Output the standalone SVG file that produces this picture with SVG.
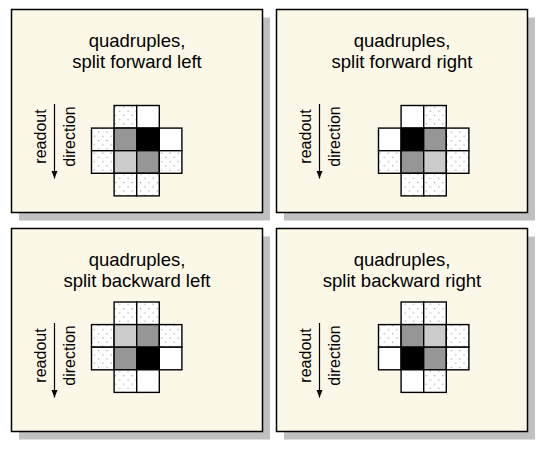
<svg xmlns="http://www.w3.org/2000/svg" width="541" height="449" viewBox="0 0 541 449">
<defs>
<pattern id="dots" patternUnits="userSpaceOnUse" width="8.4" height="8.4">
<rect x="0" y="0" width="8.4" height="8.4" fill="#ffffff"/>
<rect x="1.5" y="1.5" width="1" height="1" fill="#7a7a7a"/>
<rect x="5.7" y="5.7" width="1" height="1" fill="#7a7a7a"/>
</pattern>
<marker id="arrowhead" markerUnits="userSpaceOnUse" markerWidth="8" markerHeight="7" refX="7.5" refY="3.25" orient="auto" viewBox="0 0 8 6.5">
<path d="M0,0.25 L7.5,3.25 L0,6.25 Z" fill="#000000"/>
</marker>
<style>
.shadow{fill:#c0c0c0;stroke:none}
.panel{fill:#fcf8e8;stroke:#000000;stroke-width:1.5}
.title{font-family:"Liberation Sans",Arial,sans-serif;font-size:18.5px;fill:#000000;text-anchor:middle}
.lbl{font-family:"Liberation Sans",Arial,sans-serif;font-size:16px;fill:#000000;text-anchor:middle}
.c{stroke:#000000;stroke-width:1.4}
.w{fill:#ffffff}
.d{fill:url(#dots)}
.k{fill:#000000}
.m{fill:#969696}
.l{fill:#cbcbcb}
.arrow{stroke:#000000;stroke-width:1.2;fill:none}
</style>
</defs>

<g id="shadows">
<rect class="shadow" x="19" y="17.5" width="251" height="203"/>
<rect class="shadow" x="284" y="17.5" width="251" height="203"/>
<rect class="shadow" x="19" y="236.5" width="251" height="203"/>
<rect class="shadow" x="284" y="236.5" width="251" height="203"/>
</g>

<g id="panel-forward-left">
<rect class="panel" x="11.5" y="9.5" width="251" height="203"/>
<text class="title" x="137" y="46.5">quadruples,</text>
<text class="title" x="137" y="67.5">split forward left</text>
<text class="lbl" transform="translate(45.5,136.5) rotate(-90)">readout</text>
<text class="lbl" transform="translate(74.5,136.5) rotate(-90)">direction</text>
<rect class="c d" x="114.1" y="105.5" width="22.6" height="22.6"/>
<rect class="c w" x="136.7" y="105.5" width="22.6" height="22.6"/>
<rect class="c d" x="91.5" y="128.1" width="22.6" height="22.6"/>
<rect class="c m" x="114.1" y="128.1" width="22.6" height="22.6"/>
<rect class="c k" x="136.7" y="128.1" width="22.6" height="22.6"/>
<rect class="c w" x="159.3" y="128.1" width="22.6" height="22.6"/>
<rect class="c d" x="91.5" y="150.7" width="22.6" height="22.6"/>
<rect class="c l" x="114.1" y="150.7" width="22.6" height="22.6"/>
<rect class="c m" x="136.7" y="150.7" width="22.6" height="22.6"/>
<rect class="c d" x="159.3" y="150.7" width="22.6" height="22.6"/>
<rect class="c d" x="114.1" y="173.3" width="22.6" height="22.6"/>
<rect class="c d" x="136.7" y="173.3" width="22.6" height="22.6"/>
</g>

<g id="panel-forward-right">
<rect class="panel" x="276.5" y="9.5" width="251" height="203"/>
<text class="title" x="402" y="46.5">quadruples,</text>
<text class="title" x="402" y="67.5">split forward right</text>
<text class="lbl" transform="translate(310.5,136.5) rotate(-90)">readout</text>
<text class="lbl" transform="translate(339.5,136.5) rotate(-90)">direction</text>
<rect class="c w" x="401.1" y="105.5" width="22.6" height="22.6"/>
<rect class="c d" x="423.7" y="105.5" width="22.6" height="22.6"/>
<rect class="c w" x="378.5" y="128.1" width="22.6" height="22.6"/>
<rect class="c k" x="401.1" y="128.1" width="22.6" height="22.6"/>
<rect class="c m" x="423.7" y="128.1" width="22.6" height="22.6"/>
<rect class="c d" x="446.3" y="128.1" width="22.6" height="22.6"/>
<rect class="c d" x="378.5" y="150.7" width="22.6" height="22.6"/>
<rect class="c m" x="401.1" y="150.7" width="22.6" height="22.6"/>
<rect class="c l" x="423.7" y="150.7" width="22.6" height="22.6"/>
<rect class="c d" x="446.3" y="150.7" width="22.6" height="22.6"/>
<rect class="c d" x="401.1" y="173.3" width="22.6" height="22.6"/>
<rect class="c d" x="423.7" y="173.3" width="22.6" height="22.6"/>
</g>

<g id="panel-backward-left">
<rect class="panel" x="11.5" y="228.5" width="251" height="203"/>
<text class="title" x="137" y="265.5">quadruples,</text>
<text class="title" x="137" y="286.5">split backward left</text>
<text class="lbl" transform="translate(45.5,355.5) rotate(-90)">readout</text>
<text class="lbl" transform="translate(74.5,355.5) rotate(-90)">direction</text>
<rect class="c d" x="114.1" y="302" width="22.6" height="22.6"/>
<rect class="c d" x="136.7" y="302" width="22.6" height="22.6"/>
<rect class="c d" x="91.5" y="324.6" width="22.6" height="22.6"/>
<rect class="c l" x="114.1" y="324.6" width="22.6" height="22.6"/>
<rect class="c m" x="136.7" y="324.6" width="22.6" height="22.6"/>
<rect class="c d" x="159.3" y="324.6" width="22.6" height="22.6"/>
<rect class="c d" x="91.5" y="347.2" width="22.6" height="22.6"/>
<rect class="c m" x="114.1" y="347.2" width="22.6" height="22.6"/>
<rect class="c k" x="136.7" y="347.2" width="22.6" height="22.6"/>
<rect class="c w" x="159.3" y="347.2" width="22.6" height="22.6"/>
<rect class="c d" x="114.1" y="369.8" width="22.6" height="22.6"/>
<rect class="c w" x="136.7" y="369.8" width="22.6" height="22.6"/>
</g>

<g id="panel-backward-right">
<rect class="panel" x="276.5" y="228.5" width="251" height="203"/>
<text class="title" x="402" y="265.5">quadruples,</text>
<text class="title" x="402" y="286.5">split backward right</text>
<text class="lbl" transform="translate(310.5,355.5) rotate(-90)">readout</text>
<text class="lbl" transform="translate(339.5,355.5) rotate(-90)">direction</text>
<rect class="c d" x="401.1" y="302" width="22.6" height="22.6"/>
<rect class="c d" x="423.7" y="302" width="22.6" height="22.6"/>
<rect class="c d" x="378.5" y="324.6" width="22.6" height="22.6"/>
<rect class="c m" x="401.1" y="324.6" width="22.6" height="22.6"/>
<rect class="c l" x="423.7" y="324.6" width="22.6" height="22.6"/>
<rect class="c d" x="446.3" y="324.6" width="22.6" height="22.6"/>
<rect class="c w" x="378.5" y="347.2" width="22.6" height="22.6"/>
<rect class="c k" x="401.1" y="347.2" width="22.6" height="22.6"/>
<rect class="c m" x="423.7" y="347.2" width="22.6" height="22.6"/>
<rect class="c d" x="446.3" y="347.2" width="22.6" height="22.6"/>
<rect class="c w" x="401.1" y="369.8" width="22.6" height="22.6"/>
<rect class="c d" x="423.7" y="369.8" width="22.6" height="22.6"/>
</g>

<g id="connectors">
<line class="arrow" x1="54.5" y1="104" x2="54.5" y2="178.5" marker-end="url(#arrowhead)"/>
<line class="arrow" x1="319.5" y1="104" x2="319.5" y2="178.5" marker-end="url(#arrowhead)"/>
<line class="arrow" x1="54.5" y1="323" x2="54.5" y2="397.5" marker-end="url(#arrowhead)"/>
<line class="arrow" x1="319.5" y1="323" x2="319.5" y2="397.5" marker-end="url(#arrowhead)"/>
</g>
</svg>
